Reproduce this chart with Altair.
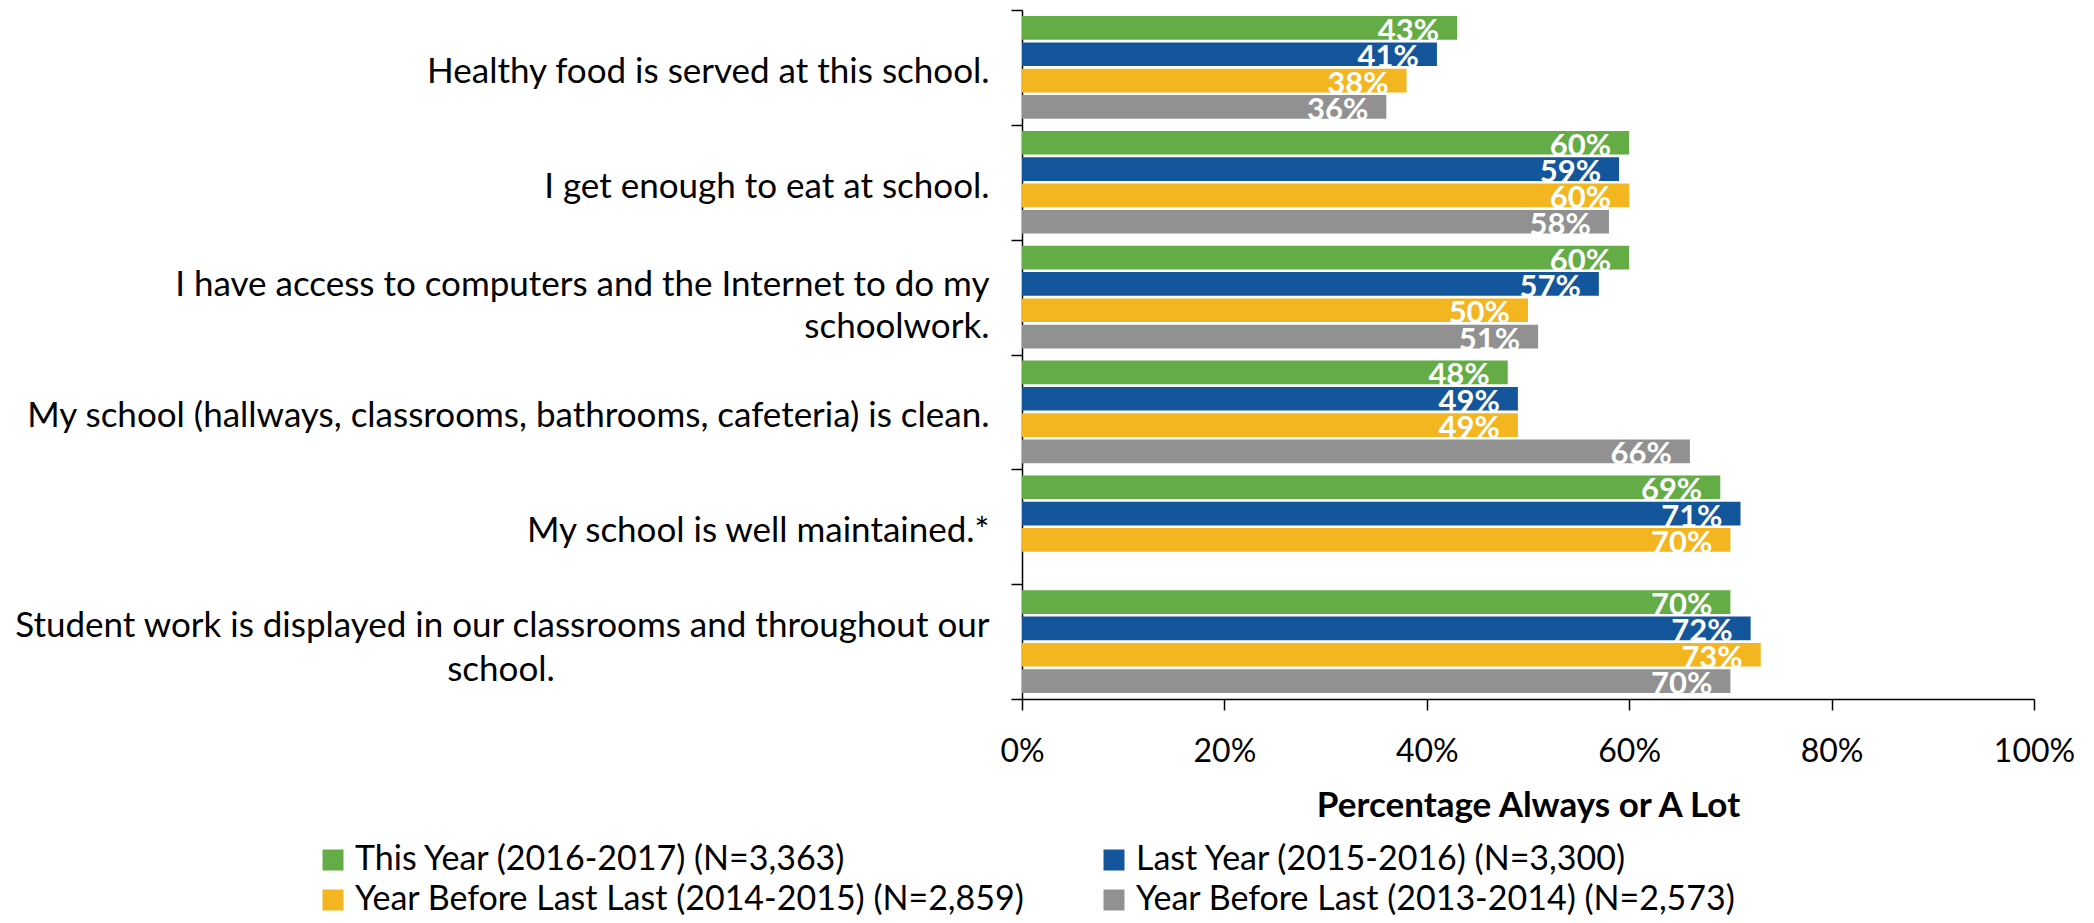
import altair as alt
import pandas as pd

questions = [
    "Healthy food is served at this school.",
    "I get enough to eat at school.",
    "I have access to computers and the Internet to do my schoolwork.",
    "My school (hallways, classrooms, bathrooms, cafeteria) is clean.",
    "My school is well maintained.*",
    "Student work is displayed in our classrooms and throughout our school.",
]
# line(s) of each label shown by the axis
question_lines = [
    ["Healthy food is served at this school."],
    ["I get enough to eat at school."],
    ["I have access to computers and the Internet to do my", "schoolwork."],
    ["My school (hallways, classrooms, bathrooms, cafeteria) is clean."],
    ["My school is well maintained.*"],
    ["Student work is displayed in our classrooms and throughout our"],
]
# centred continuation line (drawn under the axis label)
centered_continuation = {
    "Student work is displayed in our classrooms and throughout our school.": "school.",
}
series = [
    "This Year (2016-2017) (N=3,363)",
    "Last Year (2015-2016) (N=3,300)",
    "Year Before Last Last (2014-2015) (N=2,859)",
    "Year Before Last (2013-2014) (N=2,573)",
]
this_year = [43, 60, 60, 48, 69, 70]
last_year = [41, 59, 57, 49, 71, 72]
year_before_last_last = [38, 60, 50, 49, 70, 73]
year_before_last = [36, 58, 51, 66, None, 70]
colors = ["#63AC46", "#14569B", "#F3B620", "#919191"]
x_ticks = [0, 0.2, 0.4, 0.6, 0.8, 1.0]

values = [this_year, last_year, year_before_last_last, year_before_last]
rows = []
for qi, q in enumerate(questions):
    for si, s in enumerate(series):
        v = values[si][qi]
        if v is None:
            continue
        rows.append({"question": q, "series": s, "value": v / 100})
df = pd.DataFrame(rows)
cont_df = pd.DataFrame(
    [{"question": q, "line": t} for q, t in centered_continuation.items()]
)

# label expression producing (multi-line) labels
expr = "datum.label"
for q, lines in zip(questions, question_lines):
    arr = "[" + ",".join("'" + l + "'" for l in lines) + "]"
    expr = f"datum.value == '{q}' ? {arr} : ({expr})"

FONT = "Lato"

label_offset = {
    "condition": [
        {"test": f"datum.value == '{questions[2]}'", "value": -13},
        {"test": f"datum.value == '{questions[5]}'", "value": -16},
    ],
    "value": 4,
}

y_enc = alt.Y(
    "question:N",
    sort=questions,
    scale=alt.Scale(paddingInner=0, paddingOuter=0),
    axis=alt.Axis(
        title=None,
        labelExpr=expr,
        labelAlign="right",
        labelBaseline="middle",
        labelFont=FONT,
        labelFontSize=35,
        labelColor="black",
        labelLineHeight=42,
        labelPadding=22,
        labelLimit=0,
        labelOffset=label_offset,
        tickBand="extent",
        tickSize=11,
        tickColor="black",
        tickWidth=1.5,
        domainColor="black",
        domainWidth=1.5,
    ),
)
x_enc = alt.X(
    "value:Q",
    scale=alt.Scale(domain=[0, 1]),
    axis=alt.Axis(
        title="Percentage Always or A Lot",
        values=x_ticks,
        format="%",
        grid=False,
        labelFlush=False,
        labelFont=FONT,
        labelFontSize=32,
        labelColor="black",
        labelPadding=26,
        tickSize=11,
        tickColor="black",
        tickWidth=1.5,
        domainColor="black",
        domainWidth=1.5,
        titleFont=FONT,
        titleFontSize=35,
        titleFontWeight="bold",
        titleColor="black",
        titlePadding=21,
    ),
)
yoff = alt.YOffset("series:N", sort=series, scale=alt.Scale(paddingInner=0.1, paddingOuter=0.23))

bars = alt.Chart(df).mark_bar().encode(
    x=x_enc,
    y=y_enc,
    yOffset=yoff,
    color=alt.Color(
        "series:N",
        sort=series,
        scale=alt.Scale(domain=series, range=colors),
        legend=alt.Legend(
            title=None,
            orient="none",
            direction="horizontal",
            legendX=-706,
            legendY=833,
            columns=2,
            symbolType="square",
            symbolSize=441,
            symbolStrokeWidth=0,
            labelFont=FONT,
            labelFontSize=34,
            labelColor="black",
            labelOffset=5,
            labelLimit=0,
            columnPadding=72,
            rowPadding=6,
        ),
    ),
)

labels = alt.Chart(df).mark_text(
    align="right",
    baseline="alphabetic",
    dx=-18,
    dy=13,
    color="white",
    font=FONT,
    fontSize=31,
    fontWeight="bold",
).encode(
    x=alt.X("value:Q"),
    y=alt.Y("question:N", sort=questions),
    yOffset=yoff,
    text=alt.Text("value:Q", format=".0%"),
)

continuation = alt.Chart(cont_df).mark_text(
    align="center",
    baseline="middle",
    dy=28,
    color="black",
    font=FONT,
    fontSize=35,
).encode(
    x=alt.value(-521),
    y=alt.Y("question:N", sort=questions),
    text="line:N",
)

chart = (
    alt.layer(bars, labels, continuation)
    .properties(
        width=1012,
        height=689,
        autosize=alt.AutoSizeParams(type="none"),
        padding={"left": 1014, "top": 2, "right": 52, "bottom": 216},
    )
    .configure(font=FONT)
    .configure_view(stroke=None)
)

chart.save("out.html", embed_options={"renderer": "svg", "actions": False})
